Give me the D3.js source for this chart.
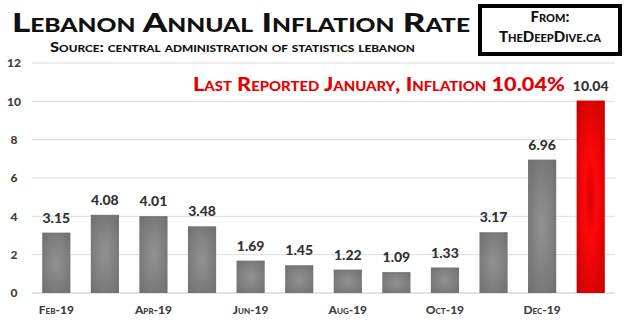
<!DOCTYPE html>
<html>
<head>
<meta charset="utf-8">
<script src="https://cdn.jsdelivr.net/npm/d3@7"></script>
<style>
  html, body { margin: 0; padding: 0; background: #fff; }
  svg { display: block; }
  text { font-family: "Lato", "Open Sans", sans-serif; font-weight: 900; font-variant: small-caps; }
</style>
</head>
<body>
<svg id="chart" width="630" height="327"></svg>
<script>
// Monthly inflation figures, Feb 2019 to Jan 2020
const months = ["Feb-19","Mar-19","Apr-19","May-19","Jun-19","Jul-19","Aug-19","Sep-19","Oct-19","Nov-19","Dec-19","Jan-20"];
const inflation = [3.15, 4.08, 4.01, 3.48, 1.69, 1.45, 1.22, 1.09, 1.33, 3.17, 6.96, 10.04];
const yTicks = [0, 2, 4, 6, 8, 10, 12];
const xTickLabels = ["Feb-19","Apr-19","Jun-19","Aug-19","Oct-19","Dec-19"];

const titleText = "Lebanon Annual Inflation Rate";
const subtitleText = "Source: central administration of statistics lebanon";
const noteText = "Last Reported January, Inflation 10.04%";
const sourceLines = ["From:", "TheDeepDive.ca"];

const svg = d3.select("#chart");

const x = d3.scaleBand().domain(months).range([32, 615]).paddingInner(0.42).paddingOuter(0.21);
const y = d3.scaleLinear().domain([0, 12]).range([293, 63]);

// Gradients: grey for history, red for the latest month
const defs = svg.append("defs");
function radial(id, stops) {
  const g = defs.append("radialGradient").attr("id", id).attr("cx", "50%").attr("cy", "50%").attr("r", "72%");
  stops.forEach(([o, c]) => g.append("stop").attr("offset", o).attr("stop-color", c));
}
radial("greyFill", [["0%", "#929292"], ["100%", "#6e6e6e"]]);
radial("redFill", [["0%", "#d80000"], ["30%", "#ff0808"], ["100%", "#c00000"]]);

// Gridlines
svg.append("g")
  .selectAll("line")
  .data(yTicks)
  .join("line")
  .attr("x1", 32).attr("x2", 615)
  .attr("y1", d => y(d)).attr("y2", d => y(d))
  .attr("stroke", d => d === 0 ? "#c8c8c8" : "#dcdcdc")
  .attr("stroke-width", 1);

// Y axis labels
const yAxis = d3.axisLeft(y).tickValues(yTicks).tickSize(0).tickPadding(0);
svg.append("g")
  .attr("transform", "translate(14,0)")
  .call(yAxis)
  .call(g => g.select(".domain").remove())
  .call(g => g.selectAll("text")
    .attr("text-anchor", "middle")
    .attr("fill", "#404040")
    .style("font-size", "12px"));

// X axis labels (every other month)
const xAxis = d3.axisBottom(x).tickValues(xTickLabels).tickSize(0).tickPadding(0);
svg.append("g")
  .attr("transform", "translate(0,305)")
  .call(xAxis)
  .call(g => g.select(".domain").remove())
  .call(g => g.selectAll("text")
    .attr("fill", "#404040")
    .style("font-size", "12px"));

// Bars
const last = months[months.length - 1];
svg.append("g")
  .selectAll("rect")
  .data(months.map((m, i) => ({ m, v: inflation[i] })))
  .join("rect")
  .attr("x", d => x(d.m))
  .attr("width", x.bandwidth())
  .attr("y", d => y(d.v))
  .attr("height", d => y(0) - y(d.v))
  .attr("fill", d => d.m === last ? "url(#redFill)" : "url(#greyFill)");

// Value labels
svg.append("g")
  .selectAll("text")
  .data(months.map((m, i) => ({ m, v: inflation[i] })))
  .join("text")
  .attr("x", d => x(d.m) + x.bandwidth() / 2)
  .attr("y", d => y(d.v) - 10)
  .attr("text-anchor", "middle")
  .attr("fill", "#333")
  .style("font-size", "14px")
  .text(d => d.v.toFixed(2));

// Title and subtitle
svg.append("text")
  .attr("x", 12).attr("y", 32)
  .attr("textLength", 458).attr("lengthAdjust", "spacingAndGlyphs")
  .attr("fill", "#111")
  .style("font-size", "27px")
  .text(titleText);

svg.append("text")
  .attr("x", 50).attr("y", 52)
  .attr("textLength", 365).attr("lengthAdjust", "spacingAndGlyphs")
  .attr("fill", "#111")
  .style("font-size", "14px")
  .text(subtitleText);

// Annotation
svg.append("text")
  .attr("x", 193).attr("y", 91)
  .attr("textLength", 372).attr("lengthAdjust", "spacingAndGlyphs")
  .attr("fill", "#e60000")
  .style("font-size", "19px")
  .text(noteText);

// Source box
svg.append("rect")
  .attr("x", 480).attr("y", 6).attr("width", 140).attr("height", 48)
  .attr("fill", "#fff").attr("stroke", "#000").attr("stroke-width", 4);

svg.append("g")
  .selectAll("text")
  .data(sourceLines)
  .join("text")
  .attr("x", 550)
  .attr("y", (d, i) => 22 + i * 20)
  .attr("text-anchor", "middle")
  .attr("fill", "#111")
  .style("font-size", "15px")
  .text(d => d);
</script>
</body>
</html>
